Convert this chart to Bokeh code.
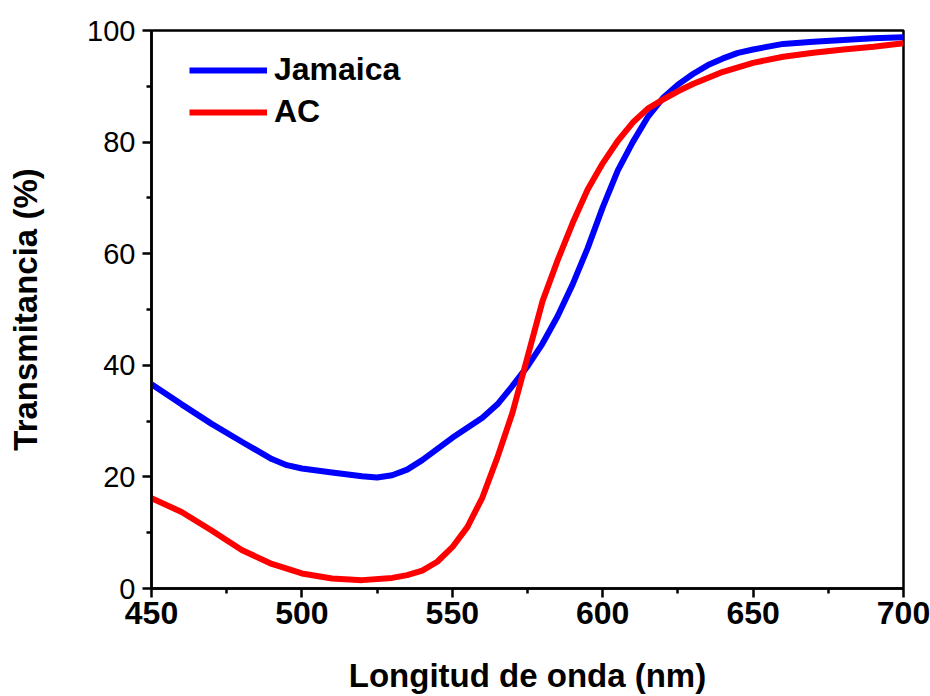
from bokeh.plotting import figure
from bokeh.models import Legend, LegendItem, Range1d, FixedTicker
from bokeh.embed import file_html
from bokeh.resources import INLINE

wavelength_jam = [450, 460, 470, 480, 490, 495, 500, 510, 520, 525, 530, 535, 540, 550, 560, 565, 570, 575, 580,
                  585, 590, 595, 600, 605, 610, 615, 620, 625, 630, 635, 640, 645, 650, 660, 670, 680, 690, 700]
jamaica = [36.6, 33.0, 29.5, 26.3, 23.2, 22.1, 21.5, 20.8, 20.1, 19.9, 20.3, 21.3, 23.0, 27.0, 30.6, 33.0, 36.3, 39.8, 43.9,
           48.8, 54.5, 61.0, 68.3, 74.9, 80.0, 84.5, 87.9, 90.3, 92.2, 93.8, 95.0, 96.0, 96.6, 97.6, 98.0, 98.3, 98.6, 98.8]

wavelength_ac = [450, 460, 470, 480, 490, 500, 510, 520, 530, 535, 540, 545, 550, 555, 560, 565, 570, 575, 580,
                 585, 590, 595, 600, 605, 610, 615, 620, 625, 630, 640, 650, 660, 670, 680, 690, 700]
ac = [16.2, 13.7, 10.4, 6.9, 4.4, 2.7, 1.8, 1.5, 1.9, 2.4, 3.2, 4.8, 7.4, 11.0, 16.3, 23.5, 31.5, 41.5, 51.5,
      58.8, 65.5, 71.5, 76.2, 80.2, 83.5, 86.0, 87.6, 89.1, 90.4, 92.6, 94.2, 95.3, 96.0, 96.6, 97.1, 97.7]

x_ticks = [450, 500, 550, 600, 650, 700]
y_ticks = [0, 20, 40, 60, 80, 100]

FONT = "Liberation Sans"

p = figure(width=930, height=696, output_backend="svg", toolbar_location=None,
           x_range=Range1d(450, 700), y_range=Range1d(0, 100),
           min_border_left=151, min_border_right=27, min_border_top=30, min_border_bottom=108)
p.grid.visible = False
p.outline_line_color = "black"
p.outline_line_width = 2.5
p.background_fill_color = "white"
p.border_fill_color = "white"

r1 = p.line(wavelength_jam, jamaica, line_color="#0000ff", line_width=6)
r2 = p.line(wavelength_ac, ac, line_color="#ff0000", line_width=6)

p.xaxis.ticker = FixedTicker(ticks=x_ticks, minor_ticks=[475, 525, 575, 625, 675])
p.yaxis.ticker = FixedTicker(ticks=y_ticks, minor_ticks=[10, 30, 50, 70, 90])
for ax in (p.xaxis[0], p.yaxis[0]):
    ax.axis_line_width = 2.5
    ax.major_tick_line_width = 2.5
    ax.minor_tick_line_width = 2.5
    ax.major_tick_out = 9
    ax.major_tick_in = 0
    ax.minor_tick_out = 5
    ax.minor_tick_in = 0
    ax.major_label_text_font = FONT
    ax.axis_label_text_font = FONT
    ax.axis_label_text_font_style = "bold"
    ax.axis_label_text_color = "black"
    ax.major_label_text_color = "black"

p.xaxis.axis_label = "Longitud de onda (nm)"
p.xaxis.axis_label_text_font_size = "33px"
p.xaxis.major_label_text_font_size = "32px"
p.xaxis.major_label_text_font_style = "bold"
p.xaxis.major_label_standoff = 4
p.xaxis.axis_label_standoff = 30

p.yaxis.axis_label = "Transmitancia (%)"
p.yaxis.axis_label_text_font_size = "33px"
p.yaxis.major_label_text_font_size = "29px"
p.yaxis.major_label_standoff = 7
p.yaxis.axis_label_standoff = 40

legend = Legend(items=[LegendItem(label="Jamaica", renderers=[r1]),
                       LegendItem(label="AC", renderers=[r2])],
                location=(38, 458))
legend.border_line_color = None
legend.background_fill_alpha = 0
legend.glyph_width = 78
legend.glyph_height = 34
legend.label_height = 34
legend.label_text_font = FONT
legend.label_text_font_style = "bold"
legend.label_text_font_size = "32px"
legend.label_text_color = "black"
legend.label_standoff = 7
legend.spacing = 5
legend.padding = 6
p.add_layout(legend)

open("out.html", "w").write(file_html(p, INLINE))
